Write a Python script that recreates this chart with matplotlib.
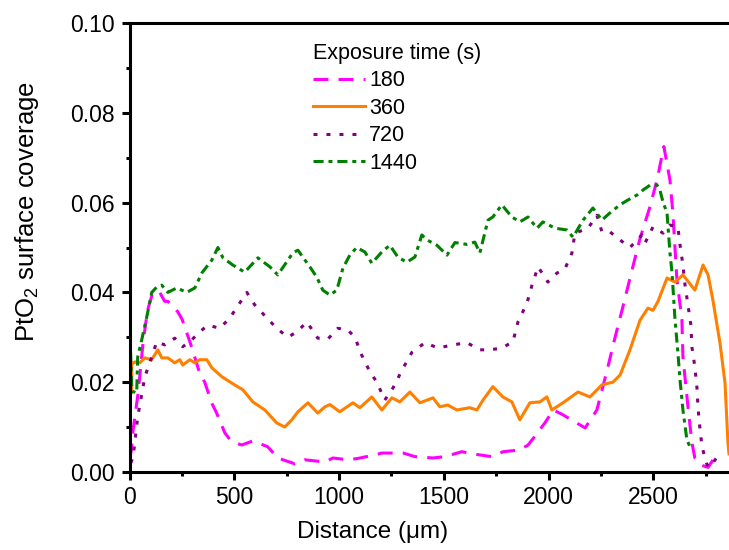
import matplotlib
matplotlib.use("Agg")
import matplotlib.pyplot as plt
from matplotlib.ticker import MultipleLocator, FormatStrFormatter

plt.rcParams['font.family'] = ['Liberation Sans', 'DejaVu Sans']
plt.rcParams['mathtext.default'] = 'regular'

# exposure 180 s
x180 = [0, 8, 15, 40, 64, 85, 110, 143, 167, 182, 229, 250, 287, 301, 334, 358, 392, 416, 454, 487,
        535, 588, 659, 707, 788, 836, 932, 970, 1042, 1090, 1171, 1204, 1306, 1362, 1448, 1505, 1586,
        1640, 1730, 1783, 1863, 1903, 1950, 1984, 2023, 2070, 2127, 2175, 2231, 2280, 2318, 2351, 2399,
        2437, 2484, 2518, 2551, 2580, 2594, 2613, 2637, 2642, 2666, 2685, 2699, 2730, 2762, 2790, 2810]
y180 = [0.003, 0.005, 0.009, 0.0176, 0.029, 0.036, 0.040, 0.040, 0.038, 0.038, 0.0357, 0.034, 0.029,
        0.027, 0.022, 0.020, 0.0153, 0.013, 0.0087, 0.0067, 0.006, 0.0069, 0.0056, 0.0031, 0.0018,
        0.0027, 0.0022, 0.0031, 0.0027, 0.003, 0.0038, 0.0042, 0.0042, 0.0034, 0.0031, 0.0034, 0.0045,
        0.004, 0.0034, 0.0045, 0.0049, 0.006, 0.0089, 0.011, 0.0138, 0.0127, 0.0111, 0.0098, 0.0138,
        0.0227, 0.030, 0.036, 0.045, 0.052, 0.059, 0.065, 0.0725, 0.065, 0.0577, 0.043, 0.034, 0.0256,
        0.0145, 0.0065, 0.0031, 0.0015, 0.001, 0.003, 0.0038]

# exposure 360 s
x360 = [0, 9, 10, 24, 48, 72, 105, 134, 153, 182, 215, 239, 253, 287, 311, 334, 368, 392, 440, 487,
        540, 588, 645, 702, 740, 774, 803, 851, 898, 932, 956, 1003, 1066, 1099, 1156, 1204, 1252, 1290,
        1338, 1386, 1448, 1481, 1519, 1562, 1624, 1658, 1687, 1734, 1782, 1825, 1863, 1911, 1959, 1992,
        2016, 2069, 2141, 2198, 2255, 2308, 2342, 2389, 2437, 2475, 2499, 2523, 2566, 2604, 2642, 2699,
        2738, 2762, 2785, 2819, 2843, 2857, 2862]
y360 = [0.018, 0.0176, 0.024, 0.0245, 0.0243, 0.0254, 0.025, 0.0272, 0.0254, 0.0254, 0.0243, 0.025,
        0.0238, 0.025, 0.0243, 0.025, 0.025, 0.0232, 0.0212, 0.0198, 0.0183, 0.0156, 0.0138, 0.0109,
        0.010, 0.0116, 0.0134, 0.0154, 0.0131, 0.0145, 0.015, 0.0134, 0.0154, 0.0143, 0.0167, 0.0138,
        0.0165, 0.0156, 0.0178, 0.0154, 0.0165, 0.0145, 0.0149, 0.0138, 0.0143, 0.0138, 0.016, 0.019,
        0.0167, 0.0156, 0.0116, 0.0154, 0.0156, 0.0167, 0.0138, 0.0154, 0.0178, 0.0167, 0.0194, 0.020,
        0.0216, 0.0272, 0.0338, 0.0365, 0.036, 0.038, 0.0432, 0.0423, 0.0439, 0.0405, 0.0461, 0.0439,
        0.0383, 0.0287, 0.0198, 0.0065, 0.004]

# exposure 720 s
x720 = [5, 16, 38, 56, 72, 105, 129, 167, 215, 253, 287, 334, 373, 430, 478, 559, 597, 655, 702, 755,
        798, 846, 898, 946, 994, 1042, 1075, 1108, 1147, 1180, 1218, 1257, 1304, 1347, 1410, 1472, 1543,
        1610, 1672, 1720, 1777, 1830, 1854, 1897, 1921, 1950, 1997, 2040, 2078, 2112, 2126, 2189, 2231,
        2255, 2293, 2341, 2389, 2446, 2461, 2499, 2547, 2580, 2618, 2628, 2642, 2652, 2666, 2680, 2685,
        2699, 2709, 2714, 2723, 2733, 2757, 2771, 2800]
y720 = [0.002, 0.0033, 0.0123, 0.017, 0.0212, 0.0256, 0.029, 0.0283, 0.0298, 0.0279, 0.029, 0.0312,
        0.0327, 0.032, 0.0343, 0.040, 0.0372, 0.0343, 0.032, 0.030, 0.0312, 0.0334, 0.0298, 0.0296,
        0.032, 0.0316, 0.030, 0.026, 0.0223, 0.020, 0.016, 0.0187, 0.023, 0.0266, 0.0288, 0.0276, 0.0283,
        0.0288, 0.0272, 0.0272, 0.0276, 0.029, 0.0334, 0.0376, 0.0416, 0.0457, 0.0423, 0.0443, 0.0452,
        0.0488, 0.0532, 0.0543, 0.0572, 0.0535, 0.0535, 0.0517, 0.050, 0.0528, 0.051, 0.0546, 0.0532,
        0.055, 0.0546, 0.0506, 0.0461, 0.0416, 0.0372, 0.0327, 0.0278, 0.0234, 0.0187, 0.0143, 0.0098,
        0.0056, 0.0016, 0.001, 0.003]

# exposure 1440 s
x1440 = [0, 5, 10, 33, 38, 57, 81, 105, 129, 153, 182, 225, 272, 311, 344, 392, 421, 445, 492, 549,
         612, 669, 707, 779, 803, 860, 893, 922, 956, 989, 1018, 1051, 1084, 1123, 1156, 1204, 1242,
         1280, 1323, 1362, 1395, 1419, 1467, 1515, 1553, 1610, 1648, 1672, 1711, 1734, 1777, 1825, 1863,
         1902, 1945, 1973, 2031, 2088, 2117, 2165, 2212, 2255, 2293, 2341, 2380, 2423, 2451, 2485, 2518,
         2532, 2547, 2566, 2580, 2590, 2604, 2618, 2628, 2642, 2661, 2676]
y1440 = [0.032, 0.025, 0.018, 0.0176, 0.0256, 0.0294, 0.0345, 0.040, 0.0412, 0.0416, 0.040, 0.041,
         0.040, 0.041, 0.0443, 0.0472, 0.050, 0.0477, 0.0461, 0.0445, 0.0477, 0.0457, 0.0439, 0.0488,
         0.0494, 0.0457, 0.0434, 0.0405, 0.0394, 0.0405, 0.0454, 0.0483, 0.050, 0.049, 0.0465, 0.049,
         0.0505, 0.0479, 0.0467, 0.0479, 0.0528, 0.0517, 0.0505, 0.0483, 0.0511, 0.0507, 0.0512, 0.0488,
         0.0561, 0.0568, 0.0595, 0.0568, 0.0557, 0.0568, 0.0543, 0.0557, 0.0543, 0.0539, 0.0523, 0.0561,
         0.0588, 0.0561, 0.0577, 0.0595, 0.0606, 0.0617, 0.0628, 0.0639, 0.0639, 0.0628, 0.0601, 0.0577,
         0.0488, 0.0443, 0.034, 0.0265, 0.0205, 0.0138, 0.0071, 0.0056]

labels = ['180', '360', '720', '1440']

fig = plt.figure(figsize=(7.29, 5.5), dpi=100)
ax = fig.add_axes([0.178, 0.142, 0.822, 0.816])

lw = 2.2
ax.plot(x180, y180, color='#ff00ff', lw=lw, dashes=(4.9, 3.3), label=labels[0])
ax.plot(x360, y360, color='#ff8000', lw=lw, label=labels[1])
ax.plot(x720, y720, color='#800080', lw=lw, dashes=(1.3, 2.95), label=labels[2])
ax.plot(x1440, y1440, color='#008000', lw=lw, dashes=(3.3, 1.6, 1.3, 1.6), label=labels[3])

ax.set_xlim(0, 2862)
ax.set_ylim(0, 0.10)
ax.xaxis.set_major_locator(MultipleLocator(500))
ax.xaxis.set_minor_locator(MultipleLocator(250))
ax.yaxis.set_major_locator(MultipleLocator(0.02))
ax.yaxis.set_minor_locator(MultipleLocator(0.01))
ax.yaxis.set_major_formatter(FormatStrFormatter('%.2f'))

for s in ['left', 'bottom', 'top']:
    ax.spines[s].set_linewidth(2.2)
ax.spines['right'].set_visible(False)
ax.tick_params(which='major', direction='out', length=5.8, width=2.2, labelsize=16.5)
ax.tick_params(axis='x', which='major', pad=4)
ax.tick_params(axis='y', which='major', pad=5)
ax.tick_params(which='minor', direction='out', length=3, width=2.2)
ax.tick_params(top=False, right=False)

ax.set_xlabel('Distance (μm)', fontsize=17.5)
ax.xaxis.set_label_coords(0.406, -0.11)
ax.set_ylabel('PtO$_2$ surface coverage', fontsize=18.5)
ax.yaxis.set_label_coords(-0.148, 0.58)

leg = ax.legend(title='Exposure time (s)', loc='upper left', bbox_to_anchor=(0.292, 0.975),
                frameon=False, fontsize=15.5, title_fontsize=15.5, handlelength=2.4,
                handletextpad=0.2, labelspacing=0.3, borderaxespad=0, alignment='left')

fig.savefig('out.png', dpi=100)
